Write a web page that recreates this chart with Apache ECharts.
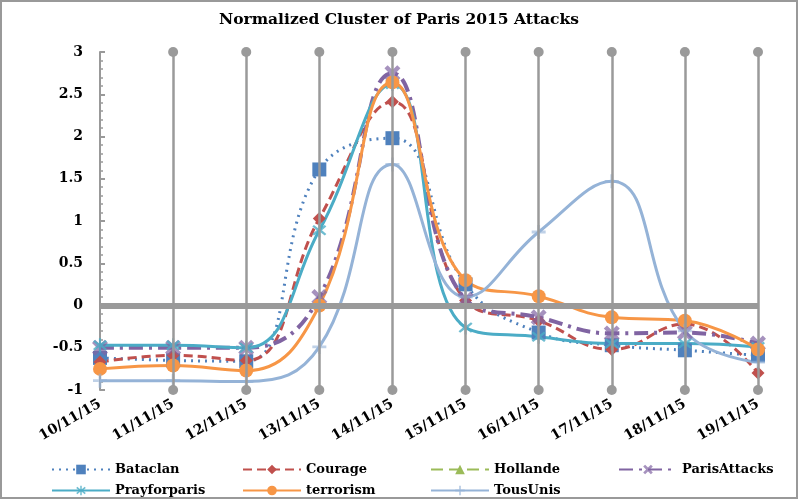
<!DOCTYPE html>
<html>
<head>
<meta charset="utf-8">
<script src="https://cdn.jsdelivr.net/npm/echarts@6/dist/echarts.min.js"></script>
<style>
html,body{margin:0;padding:0;background:#fff;}
#c{width:798px;height:499px;}
</style>
</head>
<body>
<div id="c"></div>
<script>
const categories = ['10/11/15','11/11/15','12/11/15','13/11/15','14/11/15','15/11/15','16/11/15','17/11/15','18/11/15','19/11/15'];
const bataclan     = [-0.62, -0.65, -0.66, 1.61, 1.98, 0.25, -0.32, -0.47, -0.53, -0.59];
const courage      = [-0.67, -0.59, -0.65, 1.03, 2.41, 0.06, -0.18, -0.52, -0.22, -0.80];
const hollande     = [null, null, null, null, null, null, null, null, null, null];
const parisAttacks = [-0.50, -0.50, -0.50, 0.10, 2.75, 0.07, -0.14, -0.33, -0.32, -0.45];
const prayforparis = [-0.47, -0.47, -0.50, 0.89, 2.62, -0.26, -0.37, -0.45, -0.45, -0.49];
const terrorism    = [-0.75, -0.71, -0.77, 0.00, 2.64, 0.30, 0.11, -0.14, -0.18, -0.52];
const tousUnis     = [-0.89, -0.89, -0.90, -0.49, 1.67, 0.10, 0.87, 1.47, -0.30, -0.67];
const yTicks = {min: -1, max: 3, interval: 0.5};

const serif = 'DejaVu Serif';
const X_PATH = 'path://M2,0 L5,3 L8,0 L10,2 L7,5 L10,8 L8,10 L5,7 L2,10 L0,8 L3,5 L0,2 Z';
const STAR_PATH = 'path://M4.3,0 H5.7 V3.6 L8.5,1.2 L9.5,2.3 L6.7,5 L9.5,7.7 L8.5,8.8 L5.7,6.4 V10 H4.3 V6.4 L1.5,8.8 L0.5,7.7 L3.3,5 L0.5,2.3 L1.5,1.2 L4.3,3.6 Z';
const PLUS_PATH = 'path://M4,0 H6 V4 H10 V6 H6 V10 H4 V6 H0 V4 H4 Z';

function lineSeries(name, data, color, type, width, symbol, size, opacity) {
  return {
    name, type: 'line', data, smooth: 0.45, z: 3,
    symbol, symbolSize: size, showSymbol: true,
    lineStyle: {color, width, type},
    itemStyle: {color, opacity: opacity == null ? 1 : opacity},
    emphasis: {disabled: true}
  };
}

const chart = echarts.init(document.getElementById('c'));
const legendText = {fontFamily: serif, fontWeight: 'bold', fontSize: 13, color: '#000'};
function lg(name, left, top) {
  return {data: [name], left, top, itemWidth: 58, itemHeight: 12, itemGap: 8,
          textStyle: legendText, selectedMode: false};
}
chart.setOption({
  animation: false,
  backgroundColor: '#fff',
  title: {
    text: 'Normalized Cluster of Paris 2015 Attacks', left: 'center', top: 7,
    textStyle: {fontFamily: serif, fontWeight: 'bold', fontSize: 15.5, color: '#000'}
  },
  graphic: [{type: 'rect', shape: {x: 1, y: 1, width: 796, height: 497},
             style: {fill: 'none', stroke: '#999', lineWidth: 2}, z: 100, silent: true}],
  legend: [
    lg('Bataclan', 46, 458), lg('Courage', 237, 458), lg('Hollande', 425, 458), lg('ParisAttacks', 613, 458),
    lg('Prayforparis', 46, 479), lg('terrorism', 237, 479), lg('TousUnis', 425, 479)
  ],
  grid: {left: 100, right: 40, top: 52, bottom: 109, containLabel: false},
  xAxis: {
    type: 'category', data: categories, boundaryGap: false,
    axisLine: {show: false}, axisTick: {show: false}, splitLine: {show: false},
    axisLabel: {interval: 0, rotate: 30, margin: 13, fontFamily: serif, fontWeight: 'bold', fontSize: 14, color: '#000'}
  },
  yAxis: {
    type: 'value', min: yTicks.min, max: yTicks.max, interval: yTicks.interval,
    axisLine: {show: true, lineStyle: {color: '#999', width: 2}},
    axisTick: {show: true, inside: true, length: 5, lineStyle: {color: '#999', width: 2}},
    minorTick: {show: true, splitNumber: 5, length: 3, lineStyle: {color: '#999', width: 1.5}},
    splitLine: {show: false},
    axisLabel: {margin: 17, fontFamily: serif, fontWeight: 'bold', fontSize: 14, color: '#000'}
  },
  series: [
    {
      name: '_grid', type: 'line', data: [], z: 1, silent: true,
      markLine: {
        silent: true, symbol: ['circle', 'circle'], symbolSize: 10,
        label: {show: false}, animation: false,
        lineStyle: {color: '#9a9a9a', width: 2.5, type: 'solid'},
        itemStyle: {color: '#9a9a9a'},
        emphasis: {disabled: true},
        data: categories.slice(1).map(c => ({xAxis: c}))
      }
    },
    {
      name: '_zero', type: 'line', data: [], z: 1, silent: true,
      markLine: {
        silent: true, symbol: ['none', 'none'], label: {show: false}, animation: false,
        lineStyle: {color: '#9a9a9a', width: 6, type: 'solid'},
        emphasis: {disabled: true},
        data: [{yAxis: 0}]
      }
    },
    lineSeries('Bataclan', bataclan, '#4F81BD', [2, 5], 3, 'rect', 14),
    lineSeries('Courage', courage, '#C0504D', [9, 5], 3, 'diamond', 13),
    lineSeries('Hollande', hollande, '#9BBB59', [12, 6], 4, 'triangle', 12),
    lineSeries('ParisAttacks', parisAttacks, '#8064A2', [14, 6, 3, 6], 4, X_PATH, 16, 0.7),
    lineSeries('Prayforparis', prayforparis, '#4BACC6', 'solid', 3, STAR_PATH, 14, 0.8),
    lineSeries('terrorism', terrorism, '#F79646', 'solid', 3, 'circle', 14),
    lineSeries('TousUnis', tousUnis, '#95B3D7', 'solid', 3, PLUS_PATH, 14, 0.6)
  ]
});
</script>
</body>
</html>
